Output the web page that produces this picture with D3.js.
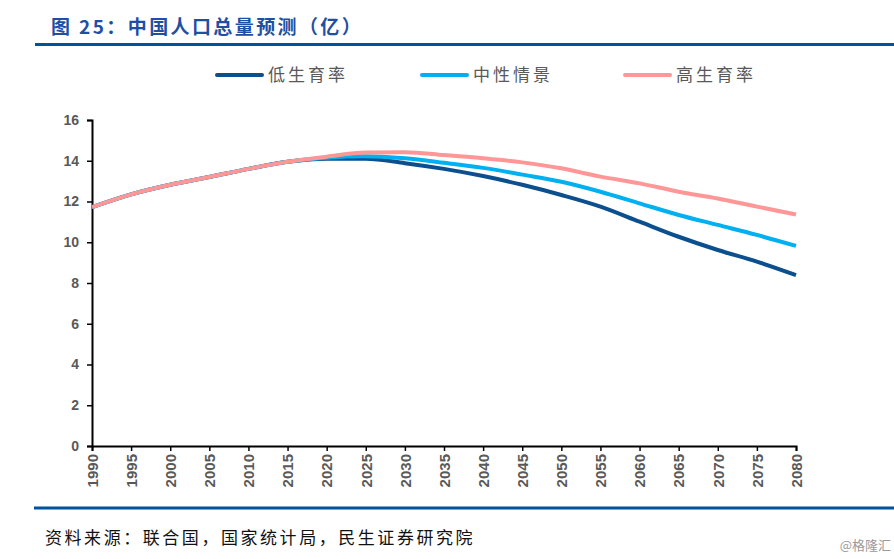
<!DOCTYPE html>
<html><head><meta charset="utf-8">
<script src="https://cdn.jsdelivr.net/npm/d3@7"></script>
<style>body{margin:0;background:#fff}svg{display:block}</style>
</head><body>
<script>
const years = [1990,1995,2000,2005,2010,2015,2020,2025,2030,2035,2040,2045,2050,2055,2060,2065,2070,2075,2080];
const lowFert  = [11.72,12.35,12.82,13.2,13.6,13.95,14.1,14.1,13.88,13.6,13.25,12.82,12.32,11.75,11.01,10.27,9.62,9.05,8.39];
const medium   = [11.72,12.35,12.82,13.2,13.6,13.95,14.15,14.22,14.12,13.9,13.65,13.32,12.97,12.48,11.91,11.34,10.85,10.36,9.82];
const highFert = [11.72,12.35,12.82,13.2,13.6,13.95,14.2,14.4,14.42,14.28,14.12,13.92,13.63,13.22,12.89,12.48,12.15,11.75,11.36];
const seriesNames = ["低生育率","中性情景","高生育率"];
const yTicks = [0,2,4,6,8,10,12,14,16];
const xTicks = [1990,1995,2000,2005,2010,2015,2020,2025,2030,2035,2040,2045,2050,2055,2060,2065,2070,2075,2080];
const colors = ["#0B4F8E","#00B0F0","#FF9797"];

const W=894,H=559;
const svg=d3.select("body").append("svg").attr("width",W).attr("height",H);
const cjk="'Noto Sans CJK SC','Noto Sans',sans-serif";

svg.append("text").attr("x",51).attr("y",34).attr("fill","#1F4FA3")
  .attr("font-family",cjk).attr("font-weight","bold").attr("font-size",19)
  .attr("letter-spacing",2.4)
  .text("图 25：中国人口总量预测（亿）");
svg.append("rect").attr("x",35).attr("y",43).attr("width",859).attr("height",3).attr("fill","#00519E");
svg.append("rect").attr("x",34).attr("y",506.5).attr("width",860).attr("height",3).attr("fill","#00519E");
svg.append("text").attr("x",45).attr("y",544).attr("fill","#111")
  .attr("font-family",cjk).attr("font-size",17).attr("letter-spacing",2.55)
  .text("资料来源：联合国，国家统计局，民生证券研究院");
svg.append("text").attr("x",891).attr("y",550).attr("text-anchor","end").attr("fill","#9a9a9a")
  .attr("font-family",cjk).attr("font-size",13).text("@格隆汇");

const x=d3.scaleLinear().domain([1990,2080]).range([92,796]);
const y=d3.scaleLinear().domain([0,16]).range([446,120]);

// legend
const legX=[217,422,625];
seriesNames.forEach((n,i)=>{
  svg.append("line").attr("x1",legX[i]).attr("x2",legX[i]+45).attr("y1",75).attr("y2",75)
    .attr("stroke",colors[i]).attr("stroke-width",4).attr("stroke-linecap","round");
  svg.append("text").attr("x",legX[i]+51).attr("y",81).attr("fill","#595959")
    .attr("font-family",cjk).attr("font-size",17).attr("letter-spacing",3).text(n);
});

const ya=svg.append("g").attr("transform","translate(92,0)")
  .call(d3.axisLeft(y).tickValues(yTicks).tickSize(5).tickPadding(8));
const xa=svg.append("g").attr("transform","translate(0,446)")
  .call(d3.axisBottom(x).tickValues(xTicks).tickSize(5).tickFormat(d3.format("d")));
[ya,xa].forEach(g=>{
  g.selectAll(".domain").attr("stroke","#000").attr("stroke-width",2);
  g.selectAll(".tick line").attr("stroke","#000").attr("stroke-width",1.5);
  g.selectAll("text").attr("fill","#595959").attr("font-family","'Liberation Sans',Arial,sans-serif")
    .attr("font-weight","bold").attr("font-size",14);
});
xa.selectAll("text").attr("font-size",15).attr("transform","rotate(-90)").attr("text-anchor","end")
  .attr("x",-8).attr("y",0).attr("dy","0.35em");

const line=d3.line().x((d,i)=>x(years[i])).y(d=>y(d)).curve(d3.curveMonotoneX);
[lowFert,medium,highFert].forEach((s,i)=>{
  svg.append("path").attr("d",line(s)).attr("fill","none").attr("stroke",colors[i])
    .attr("stroke-width",4).attr("stroke-linejoin","round");
});
</script>
</body></html>
